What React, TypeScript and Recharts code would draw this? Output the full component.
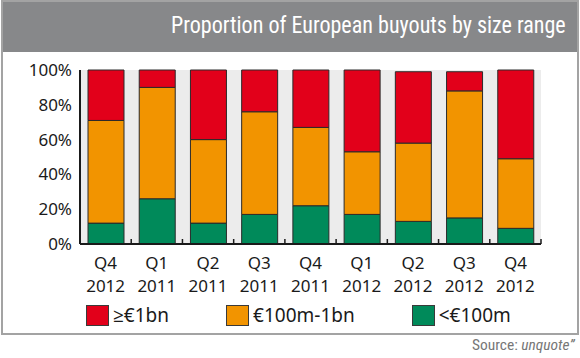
import React, { useLayoutEffect, useRef, useState } from 'react';
import { BarChart, Bar, XAxis, YAxis, CartesianGrid, Legend } from 'recharts';

const quarters = ['Q4', 'Q1', 'Q2', 'Q3', 'Q4', 'Q1', 'Q2', 'Q3', 'Q4'];
const years = ['2012', '2011', '2011', '2011', '2011', '2012', '2012', '2012', '2012'];
const under100m = [12, 26, 12, 17, 22, 17, 13, 15, 9];
const from100mTo1bn = [59, 64, 48, 59, 45, 36, 45, 73, 40];
const over1bn = [29, 10, 40, 24, 33, 47, 41, 11, 51];
const yTicks = [0, 20, 40, 60, 80, 100];

const seriesNames = ['≥€1bn', '€100m-1bn', '<€100m'];
const seriesColors = ['#e2001a', '#f29400', '#008a5a'];

const title = 'Proportion of European buyouts by size range';
const sourceLabel = 'Source: ';
const sourceName = 'unquote”';

const data = quarters.map((q, i) => ({
  id: `${q} ${years[i]}`,
  under: under100m[i],
  mid: from100mTo1bn[i],
  over: over1bn[i],
}));

const CHART_W = 580;
const CHART_H = 358;
const MARGIN = { top: 70, right: 39, bottom: 64, left: 20 };
const Y_W = 60;
const PLOT_W = CHART_W - MARGIN.left - MARGIN.right - Y_W;
const HALF_BAND = PLOT_W / quarters.length / 2;

const FONT = '"Noto Sans", "Open Sans", sans-serif';
const COND = '"Liberation Sans Narrow", "Roboto Condensed", Roboto, sans-serif';

const Condensed = ({
  right,
  top,
  targetWidth,
  fontSize,
  color,
  children,
}: {
  right: number;
  top: number;
  targetWidth: number;
  fontSize: number;
  color: string;
  children: React.ReactNode;
}) => {
  const ref = useRef<HTMLDivElement>(null);
  const [scale, setScale] = useState(0.85);
  useLayoutEffect(() => {
    if (ref.current) {
      const w = ref.current.scrollWidth;
      if (w > 0) setScale(targetWidth / w);
    }
  }, [targetWidth]);
  return (
    <div
      ref={ref}
      style={{
        position: 'absolute',
        right,
        top,
        whiteSpace: 'nowrap',
        fontFamily: COND,
        fontSize,
        lineHeight: 1,
        color,
        transform: `scaleX(${scale})`,
        transformOrigin: 'right center',
      }}
    >
      {children}
    </div>
  );
};

const XTick = (props: any) => {
  const { x, y, index } = props;
  return (
    <g>
      <line x1={x + HALF_BAND} x2={x + HALF_BAND} y1={y} y2={y - 5} stroke="#1a1a1a" strokeWidth={1.5} />
      <text x={x} y={y + 25} textAnchor="middle" fontSize={17} fontFamily={FONT} fill="#1a1a1a">
        {quarters[index]}
      </text>
      <text x={x} y={y + 48} textAnchor="middle" fontSize={17} fontFamily={FONT} fill="#1a1a1a">
        {years[index]}
      </text>
    </g>
  );
};

const LegendContent = () => (
  <div style={{ display: 'flex', alignItems: 'center', paddingLeft: 86, fontFamily: FONT, fontSize: 19, color: '#1a1a1a' }}>
    {seriesNames.map((n, i) => (
      <div key={n} style={{ display: 'flex', alignItems: 'center', marginRight: 57 }}>
        <span
          style={{
            display: 'inline-block',
            width: 21,
            height: 19,
            background: seriesColors[i],
            border: '1px solid #3a3a3a',
            marginRight: 4,
          }}
        />
        <span style={{ lineHeight: '21px' }}>{n}</span>
      </div>
    ))}
  </div>
);

export default function App() {
  return (
    <div style={{ position: 'absolute', left: 0, top: 0, width: CHART_W, height: CHART_H, background: '#fff' }}>
      <div
        style={{
          position: 'absolute',
          left: 1,
          top: 0,
          width: 578,
          height: 335,
          border: '2px solid #a3a3a3',
          boxSizing: 'border-box',
        }}
      />
      <div style={{ position: 'absolute', left: 3, top: 2, width: 574, height: 50, background: '#87888a' }} />
      <Condensed right={CHART_W - 566} top={14} targetWidth={395} fontSize={23} color="#ffffff">
        {title}
      </Condensed>
      <Condensed right={CHART_W - 575} top={338} targetWidth={103} fontSize={15} color="#777777">
        {sourceLabel}
        <i>{sourceName}</i>
      </Condensed>
      <div style={{ position: 'absolute', left: 0, top: 0 }}>
        <BarChart width={CHART_W} height={CHART_H} data={data} margin={MARGIN} barSize={36}>
          <CartesianGrid fill="#ececec" horizontal={false} vertical={false} />
          <XAxis
            dataKey="id"
            tick={<XTick />}
            tickLine={false}
            tickSize={0}
            tickMargin={0}
            height={50}
            interval={0}
            axisLine={{ stroke: '#1a1a1a', strokeWidth: 2 }}
          />
          <YAxis
            width={Y_W}
            domain={[0, 100]}
            ticks={yTicks}
            tickFormatter={(v: number) => `${v}%`}
            tickLine={false}
            axisLine={{ stroke: '#1a1a1a', strokeWidth: 2 }}
            tick={{ fontSize: 17, fontFamily: FONT, fill: '#1a1a1a' }}
          />
          <Legend
            verticalAlign="middle"
            align="center"
            content={<LegendContent />}
            wrapperStyle={{ position: 'absolute', top: 305, left: 0, width: CHART_W }}
          />
          <Bar dataKey="under" name={seriesNames[2]} stackId="a" fill={seriesColors[2]} stroke="#2a2a2a" strokeWidth={1} isAnimationActive={false} />
          <Bar dataKey="mid" name={seriesNames[1]} stackId="a" fill={seriesColors[1]} stroke="#2a2a2a" strokeWidth={1} isAnimationActive={false} />
          <Bar dataKey="over" name={seriesNames[0]} stackId="a" fill={seriesColors[0]} stroke="#2a2a2a" strokeWidth={1} isAnimationActive={false} />
        </BarChart>
      </div>
    </div>
  );
}
